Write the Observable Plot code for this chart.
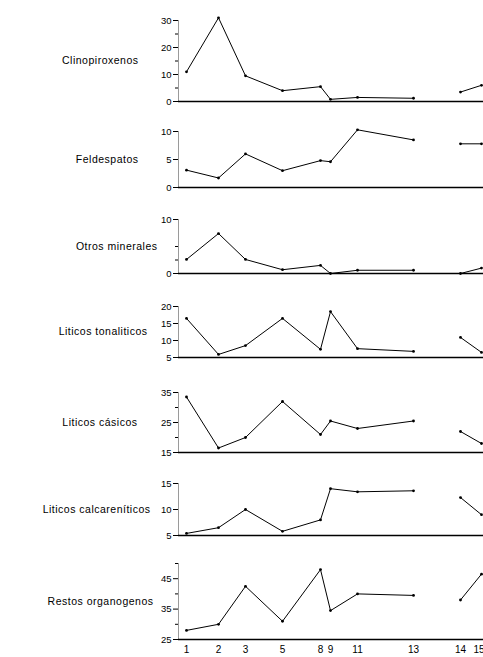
<!DOCTYPE html>
<html>
<head>
<meta charset="utf-8">
<script src="https://cdn.jsdelivr.net/npm/d3@7"></script>
<script src="https://cdn.jsdelivr.net/npm/@observablehq/plot@0.6"></script>
<style>
  html, body { margin: 0; padding: 0; background: #fff; }
  #chart { position: relative; width: 483px; height: 657px; overflow: hidden; background: #fff; }
  #chart svg { position: absolute; left: 0; }
</style>
</head>
<body>
<div id="chart"></div>
<script>
// Samples (x-axis tick labels) and their position along the section
const samples  = ["1", "2", "3", "5", "8", "9", "11", "13", "14", "15"];
const position = [8, 40, 67, 104, 142, 152, 179, 235, 282, 303];
const tramo    = ["A", "A", "A", "A", "A", "A", "A", "A", "B", "B"];

// Series values (%)
const clinopiroxenos        = [11, 31, 9.5, 4, 5.5, 0.8, 1.5, 1.2, 3.5, 6];
const feldespatos           = [3.1, 1.7, 6, 3, 4.8, 4.6, 10.3, 8.5, 7.8, 7.8];
const otrosMinerales        = [2.6, 7.4, 2.6, 0.7, 1.5, 0, 0.6, 0.6, 0, 1];
const liticosTonaliticos    = [16.5, 5.9, 8.5, 16.5, 7.4, 18.5, 7.6, 6.8, 10.9, 6.5];
const liticosCasicos        = [33.5, 16.5, 20, 32, 21, 25.5, 23, 25.5, 22, 18];
const liticosCalcareniticos = [5.4, 6.5, 10, 5.8, 8, 14, 13.4, 13.6, 12.3, 9];
const restosOrganogenos     = [28, 30, 42.5, 31, 48, 34.5, 40, 39.5, 38, 46.5];

// Panel labels and y tick values
const labels = ["Clinopiroxenos", "Feldespatos", "Otros minerales", "Liticos tonaliticos",
                "Liticos cásicos", "Liticos calcareníticos", "Restos organogenos"];
const series = [clinopiroxenos, feldespatos, otrosMinerales, liticosTonaliticos,
                liticosCasicos, liticosCalcareniticos, restosOrganogenos];
const domains = [[0, 30], [0, 10], [0, 10], [5, 20], [15, 35], [5, 15], [25, 50]];
const majorTicks = [[0, 10, 20, 30], [0, 5, 10], [0, 10], [5, 10, 15, 20], [15, 25, 35], [5, 10, 15], [25, 35, 45]];
const minorTicks = [[5, 15, 25], [], [2.5, 5], [], [20, 30], [], [30, 40, 50]];

// Layout (pixels) – not data
const layout = [
  {top: 20,  bottom: 101, dx: -40},
  {top: 131, bottom: 187, dx: -40},
  {top: 219, bottom: 273, dx: -21},
  {top: 306, bottom: 357, dx: -31},
  {top: 392, bottom: 452, dx: -41},
  {top: 483, bottom: 535, dx: -28},
  {top: 563, bottom: 639, dx: -25}
];

const font = "'Liberation Sans', Arial, sans-serif";
const chart = document.getElementById("chart");

series.forEach((vals, k) => {
  const data = samples.map((s, i) => ({sample: s, pos: position[i], value: vals[i], tramo: tramo[i]}));
  const [d0, d1] = domains[k];
  const L = layout[k];
  const mt = 8;
  const last = k === series.length - 1;
  const mb = last ? 18 : 6;
  const marks = [
    Plot.ruleX([0], {y1: d0, y2: d1, stroke: "#555", strokeWidth: 0.6}),
    Plot.axisY({ticks: majorTicks[k], tickSize: 5, tickPadding: 2, fontSize: 9.5, label: null,
                tickFormat: d => String(d)}),
    Plot.axisY({ticks: minorTicks[k], tickSize: 3, label: null, tickFormat: () => ""}),
    Plot.ruleY([d0], {x1: 0, x2: 305, stroke: "#000", strokeWidth: 1.7}),
    Plot.line(data, {x: "pos", y: "value", z: "tramo", stroke: "#000", strokeWidth: 1}),
    Plot.dot(data, {x: "pos", y: "value", r: 1.4, fill: "#000"}),
    Plot.text([labels[k]], {frameAnchor: "left", dx: L.dx, textAnchor: "end", fontSize: 10.5, fill: "#000"})
  ];
  if (last) {
    const xt = data.slice(0, -1), xl = data.slice(-1);
    marks.push(Plot.text(xt, {x: "pos", text: "sample", frameAnchor: "bottom", dy: 13, fontSize: 10, fill: "#000"}));
    marks.push(Plot.text(xl, {x: "pos", text: "sample", frameAnchor: "bottom", dy: 13, dx: 3, textAnchor: "end", fontSize: 10, fill: "#000"}));
  }
  const svg = Plot.plot({
    width: 483,
    height: (L.bottom - L.top) + mt + mb,
    marginLeft: 178, marginRight: 0, marginTop: mt, marginBottom: mb,
    x: {domain: [0, 305], axis: null},
    y: {domain: [d0, d1], axis: null},
    style: {background: "none", overflow: "visible", fontFamily: font, color: "#000"},
    marks
  });
  svg.style.top = (L.top - mt) + "px";
  svg.querySelectorAll("text").forEach(t => {
    if (labels.includes(t.textContent)) t.setAttribute("letter-spacing", "0.5");
  });
  chart.appendChild(svg);
});
</script>
</body>
</html>
